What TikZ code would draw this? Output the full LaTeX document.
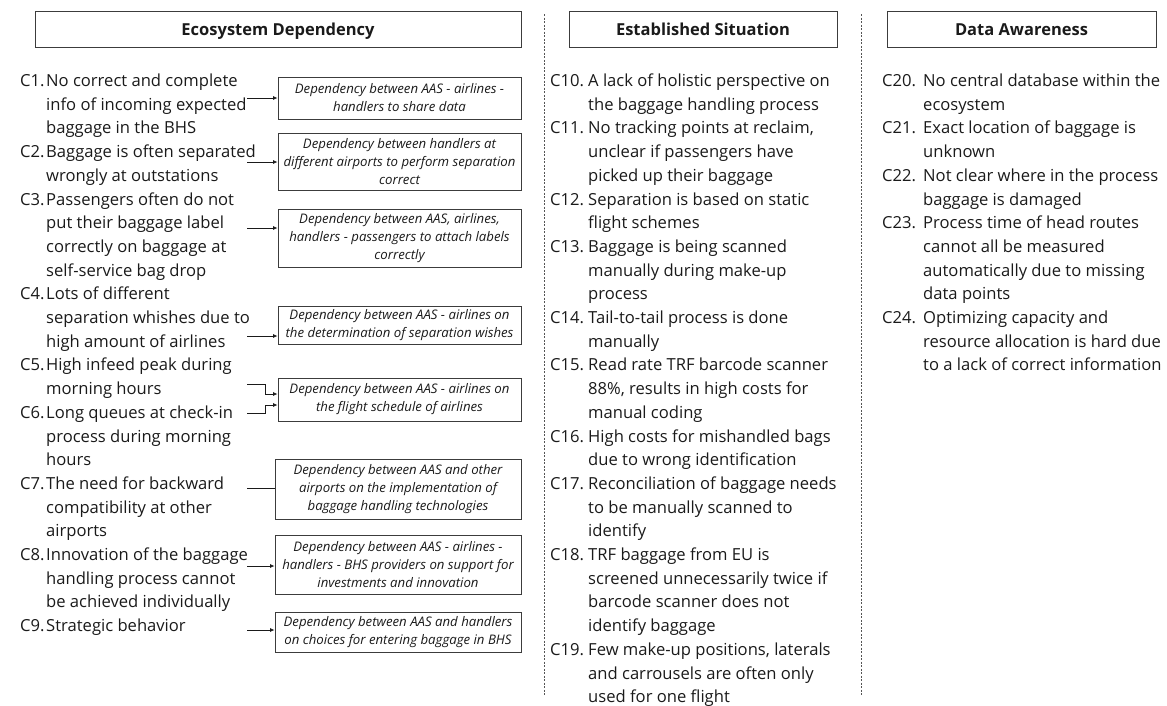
\documentclass[tikz,border=0pt]{standalone}
\usepackage{fontspec}
\setmainfont{Open Sans}
\usetikzlibrary{arrows.meta}

\definecolor{ink}{HTML}{1A1A1A}
\definecolor{frame}{HTML}{3C3C3C}
\definecolor{sepgray}{HTML}{555555}

\newcommand{\itemfont}{\fontsize{16.6}{23.7}\selectfont}
\newcommand{\boxfont}{\fontsize{13.2}{18}\selectfont\itshape}
\newcommand{\headfont}{\fontsize{16.5}{19}\selectfont\bfseries}
\newcommand{\textlines}[1]{\begin{tabular}[t]{@{}l@{}}#1\end{tabular}}
% \citem{name}{x of number}{x of text}{line index}{number}{lines}
\newcommand{\citem}[6]{%
  \node[lbl] (#1n) at (#2,{86.5+23.7*#4}) {#5};
  \node[txt] (#1) at (#3,{86.5+23.7*#4}) {\textlines{#6}};}

\tikzset{
  lbl/.style={anchor=base west, inner sep=0pt, font=\itemfont, text=ink},
  txt/.style={anchor=base west, inner sep=0pt, font=\itemfont, text=ink},
  head/.style={draw=frame, line width=0.9pt, inner sep=0pt, minimum height=36,
    text height=13, text depth=1, font=\headfont, text=ink},
  dep/.style={draw=frame, line width=0.8pt, align=center, inner sep=0pt,
    font=\boxfont, text=ink},
  arr/.style={-{Latex[length=4.5pt,width=4pt]}, line width=0.8pt, draw=ink},
  link/.style={line width=0.8pt, draw=ink},
  colsep/.style={draw=sepgray, line width=0.7pt, dash pattern=on 2pt off 1.5pt},
}

\begin{document}
\begin{tikzpicture}[x=1pt,y=-1pt]
\useasboundingbox (0,0) rectangle (1167,705);

% column headers
\node[head, minimum width=486] (hd1) at (278,29) {Ecosystem Dependency};
\node[head, minimum width=268] (hd2) at (703,29) {Established Situation};
\node[head, minimum width=269] (hd3) at (1021.5,29) {Data Awareness};

% column separators
\draw[colsep] (544,14) -- (544,695);
\draw[colsep] (861,14) -- (861,695);

% ecosystem dependency items
\citem{c1}{20}{46}{0}{C1.}{No correct and complete\\info of incoming expected\\baggage in the BHS}
\citem{c2}{20}{46}{3}{C2.}{Baggage is often separated\\wrongly at outstations}
\citem{c3}{20}{46}{5}{C3.}{Passengers often do not\\put their baggage label\\correctly on baggage at\\self-service bag drop}
\citem{c4}{20}{46}{9}{C4.}{Lots of different\\separation whishes due to\\high amount of airlines}
\citem{c5}{20}{46}{12}{C5.}{High infeed peak during\\morning hours}
\citem{c6}{20}{46}{14}{C6.}{Long queues at check-in\\process during morning\\hours}
\citem{c7}{20}{46}{17}{C7.}{The need for backward\\compatibility at other\\airports}
\citem{c8}{20}{46}{20}{C8.}{Innovation of the baggage\\handling process cannot\\be achieved individually}
\citem{c9}{20}{46}{23}{C9.}{Strategic behavior}

% established situation items
\citem{c10}{550}{588}{0}{C10.}{A lack of holistic perspective on\\the baggage handling process}
\citem{c11}{550}{588}{2}{C11.}{No tracking points at reclaim,\\unclear if passengers have\\picked up their baggage}
\citem{c12}{550}{588}{5}{C12.}{Separation is based on static\\flight schemes}
\citem{c13}{550}{588}{7}{C13.}{Baggage is being scanned\\manually during make-up\\process}
\citem{c14}{550}{588}{10}{C14.}{Tail-to-tail process is done\\manually}
\citem{c15}{550}{588}{12}{C15.}{Read rate TRF barcode scanner\\88\%, results in high costs for\\manual coding}
\citem{c16}{550}{588}{15}{C16.}{High costs for mishandled bags\\due to wrong identification}
\citem{c17}{550}{588}{17}{C17.}{Reconciliation of baggage needs\\to be manually scanned to\\identify}
\citem{c18}{550}{588}{20}{C18.}{TRF baggage from EU is\\screened unnecessarily twice if\\barcode scanner does not\\identify baggage}
\citem{c19}{550}{588}{24}{C19.}{Few make-up positions, laterals\\and carrousels are often only\\used for one flight}

% data awareness items
\citem{c20}{882}{923}{0}{C20.}{No central database within the\\ecosystem}
\citem{c21}{882}{923}{2}{C21.}{Exact location of baggage is\\unknown}
\citem{c22}{882}{923}{4}{C22.}{Not clear where in the process\\baggage is damaged}
\citem{c23}{882}{923}{6}{C23.}{Process time of head routes\\cannot all be measured\\automatically due to missing\\data points}
\citem{c24}{882}{923}{10}{C24.}{Optimizing capacity and\\resource allocation is hard due\\to a lack of correct information}

% dependency boxes
\node[dep, minimum width=243, minimum height=42] (b1) at (399.5,98) {Dependency between AAS - airlines -\\handlers to share data};
\node[dep, minimum width=243, minimum height=57] (b2) at (399.5,161.5) {Dependency between handlers at\\different airports to perform separation\\correct};
\node[dep, minimum width=243, minimum height=58] (b3) at (399.5,238) {Dependency between AAS, airlines,\\handlers - passengers to attach labels\\correctly};
\node[dep, minimum width=243, minimum height=38] (b4) at (399.5,325) {Dependency between AAS - airlines on\\the determination of separation wishes};
\node[dep, minimum width=243, minimum height=43] (b5) at (399.5,399.5) {Dependency between AAS - airlines on\\the flight schedule of airlines};
\node[dep, minimum width=246, minimum height=60] (b6) at (398,489) {Dependency between AAS and other\\airports on the implementation of\\baggage handling technologies};
\node[dep, minimum width=246, minimum height=59] (b7) at (398,564.5) {Dependency between AAS - airlines -\\handlers - BHS providers on support for\\investments and innovation};
\node[dep, minimum width=246, minimum height=40] (b8) at (398,632) {Dependency between AAS and handlers\\on choices for entering baggage in BHS};

% connector start points
\coordinate (a1) at (247,98);
\coordinate (a2) at (247,162);
\coordinate (a3) at (247,228);
\coordinate (a4) at (247,336);
\coordinate (a5) at (247,384);
\coordinate (a6) at (247,413);
\coordinate (a7) at (247,488);
\coordinate (a8) at (247,566);
\coordinate (a9) at (247,630);

% connectors
\draw[arr] (a1) -- (a1 -| b1.west);
\draw[arr] (a2) -- (a2 -| b2.west);
\draw[arr] (a3) -- (a3 -| b3.west);
\draw[arr] (a4) -- (a4 -| b4.west);
\draw[arr] (a5) -- ++(18,0) |- ([yshift=5.5pt]b5.west);
\draw[arr] (a6) -- ++(18,0) |- ([yshift=-5.5pt]b5.west);
\draw[link] (a7) -- (a7 -| b6.west);
\draw[arr] (a8) -- (a8 -| b7.west);
\draw[arr] (a9) -- (a9 -| b8.west);
\end{tikzpicture}
\end{document}
